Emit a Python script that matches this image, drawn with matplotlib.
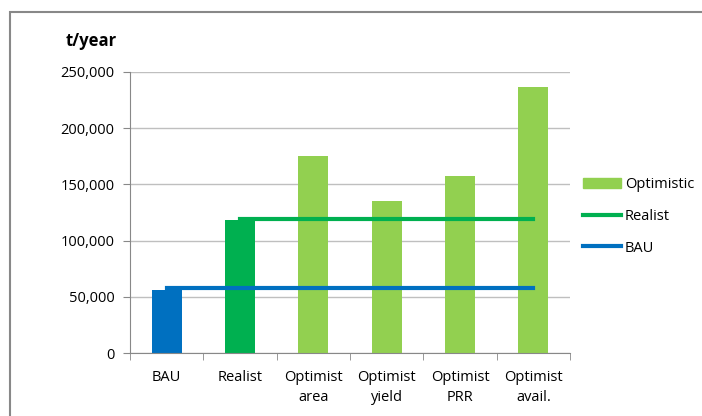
import matplotlib.pyplot as plt
import matplotlib.patches as mpatches
from matplotlib.lines import Line2D
from matplotlib.ticker import FuncFormatter
import numpy as np

categories = ["BAU", "Realist", "Optimist\narea", "Optimist\nyield", "Optimist\nPRR", "Optimist\navail."]
values = [56000, 118000, 175500, 135000, 157500, 236500]
bar_colors = ["#0070C0", "#00B050", "#92D050", "#92D050", "#92D050", "#92D050"]
realist_line = 119500
bau_line = 57500

plt.rcParams['font.family'] = ['Open Sans', 'DejaVu Sans']

fig = plt.figure(figsize=(7.02, 4.16), dpi=100)
ax = fig.add_axes([0.185, 0.1514, 0.627, 0.6756])

x = np.arange(len(categories))
ax.bar(x, values, width=0.41, color=bar_colors, zorder=2)
ax.plot([x[1], x[-1]], [realist_line] * 2, color="#00B050", lw=3, zorder=3)
ax.plot([x[0], x[-1]], [bau_line] * 2, color="#0070C0", lw=3, zorder=3)

ax.set_xlim(-0.5, len(categories) - 0.5)
ax.set_ylim(0, 250000)
ax.set_yticks(np.arange(0, 250001, 50000))
ax.yaxis.set_major_formatter(FuncFormatter(lambda v, p: f"{int(v):,}"))
ax.grid(axis="y", color="#BFBFBF", lw=1, zorder=0)
ax.set_xticks(x)
ax.set_xticklabels(categories, fontsize=10.5, linespacing=1.45)
ax.set_xticks(np.arange(-0.5, len(categories)), minor=True)
ax.tick_params(axis="x", which="major", length=0, pad=12)
ax.tick_params(axis="x", which="minor", length=5, color="#888888")
ax.tick_params(axis="y", length=5, color="#888888", labelsize=10.5, pad=6)
for s in ["top", "right"]:
    ax.spines[s].set_visible(False)
for s in ["left", "bottom"]:
    ax.spines[s].set_color("#888888")

fig.text(0.094, 0.902, "t/year", fontsize=12, fontweight="bold", va="center")

handles = [mpatches.Patch(color="#92D050", label="Optimistic"),
           Line2D([0], [0], color="#00B050", lw=3, label="Realist"),
           Line2D([0], [0], color="#0070C0", lw=3, label="BAU")]
fig.legend(handles=handles, loc="center left", bbox_to_anchor=(0.812, 0.48),
           frameon=False, fontsize=10.5, handlelength=2.6, handletextpad=0.25,
           labelspacing=1.15)

fig.patches.append(mpatches.Rectangle((0.0142, -0.1), 1.2, 1.072, transform=fig.transFigure,
                                      fill=False, edgecolor="#888888", lw=1.5))

fig.savefig("out.png", dpi=100)
